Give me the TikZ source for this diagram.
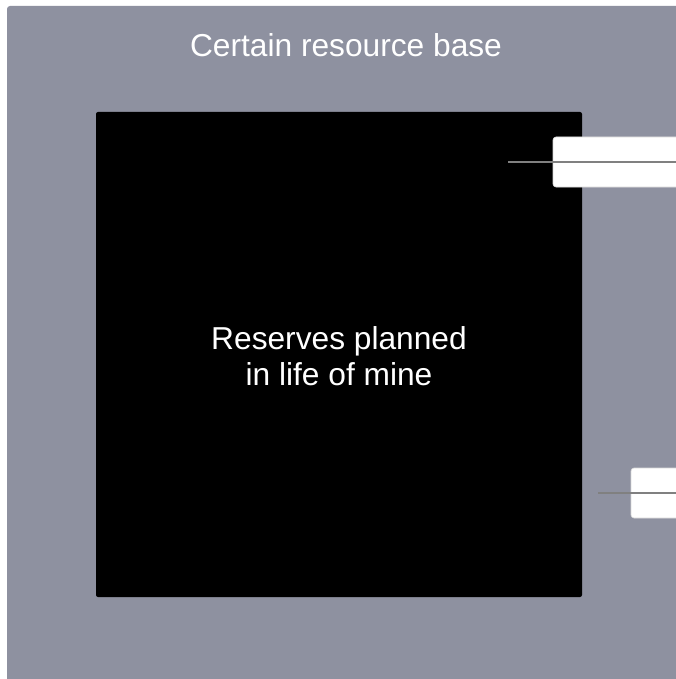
\documentclass[tikz,border=0pt]{standalone}
\usepackage{fontspec}
\setmainfont{Liberation Sans}
\definecolor{basegray}{RGB}{142,145,160}
\definecolor{leadgray}{RGB}{128,128,128}
\begin{document}
\begin{tikzpicture}[x=1pt,y=-1pt,
  bigtext/.style={text=white,font=\fontsize{31.7}{36}\selectfont,align=center},
  calloutbox/.style={fill=white,draw=white!85!black,line width=0.6pt,rounded corners=3pt},
  leader/.style={draw=leadgray,line width=1.6pt}]
\useasboundingbox (0,0) rectangle (676,679);
% resource base
\fill[basegray,rounded corners=3pt] (7,6) rectangle (690,690);
\node[bigtext,anchor=base] (title) at (346,57) {Certain resource base};
% reserves block
\fill[black,rounded corners=2pt] (96,112) rectangle (582,597);
\node[bigtext] (reserves) at (339,356) {Reserves planned\\in life of mine};
% callouts at the right edge
\draw[calloutbox] (553,137) rectangle (690,187);
\coordinate (c1start) at (508,162);
\coordinate (c1end) at (690,162);
\draw[leader] (c1start) -- (c1end);
\draw[calloutbox] (631,468) rectangle (690,518);
\coordinate (c2start) at (598,493);
\coordinate (c2end) at (690,493);
\draw[leader] (c2start) -- (c2end);
\end{tikzpicture}
\end{document}
